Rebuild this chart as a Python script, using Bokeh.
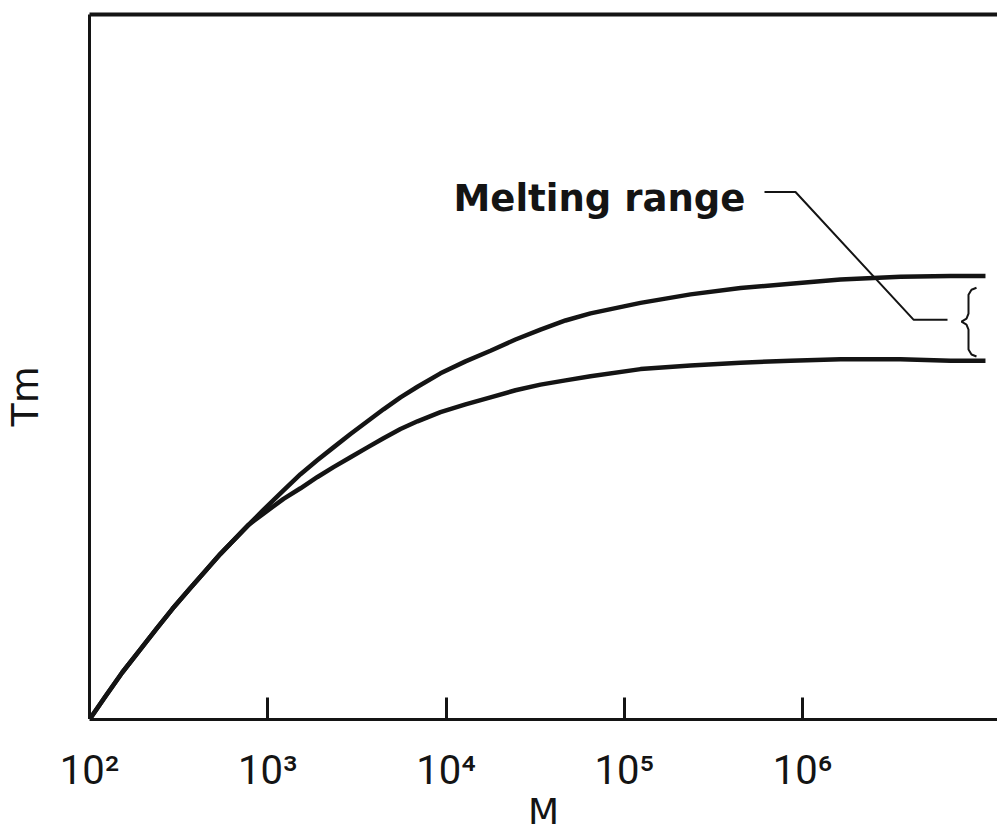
from bokeh.plotting import figure
from bokeh.models import Range1d, FixedTicker, LinearAxis, Label, Title
from bokeh.embed import file_html
from bokeh.resources import INLINE

# ---- data (M on a log axis, Tm in arbitrary units) ----
M_common = [100, 123, 153, 191, 238, 292, 364, 448, 543, 659, 780]
Tm_common = [0.0, 3.3, 6.7, 9.8, 12.9, 15.7, 18.5, 21.1, 23.5, 25.7, 27.6]
M_branch = [934, 1226, 1527, 1902, 2338, 2912, 3628, 4461, 5554, 6921,
            9314, 12870, 17770, 24540, 33900, 46820, 64680, 123400, 235400,
            449000, 856500, 1634000, 3546000, 6767000, 10630000]
Tm_upper = [29.6, 32.5, 34.8, 36.8, 38.6, 40.5, 42.3, 44.0, 45.7, 47.2,
            49.1, 50.8, 52.3, 53.9, 55.3, 56.6, 57.6, 59.1, 60.3,
            61.2, 61.8, 62.4, 62.8, 62.9, 62.9]
Tm_lower = [29.1, 31.3, 32.8, 34.4, 35.8, 37.2, 38.6, 39.9, 41.2, 42.3,
            43.6, 44.7, 45.7, 46.7, 47.5, 48.1, 48.7, 49.7, 50.2,
            50.6, 50.9, 51.1, 51.1, 50.9, 50.9]
tick_values = [1e2, 1e3, 1e4, 1e5, 1e6]
tick_labels = ["10²", "10³", "10⁴", "10⁵", "10⁶"]
x_title = "M"
y_title = "Tm"
note = "Melting range"

# ---- layout ----
W, H = 997, 834
LEFT, TOP = 89, 14
FRAME_W, FRAME_H = W - LEFT, 707
DEC_PX = 178.25
X_END = 10 ** (2 + FRAME_W / DEC_PX)


def x_at(px):
    # page pixel -> data x (annotation placement only)
    return 10 ** (2 + (px - LEFT) / DEC_PX)


def y_at(py):
    return (TOP + FRAME_H - py) / FRAME_H * 100.0


p = figure(width=W, height=H, x_axis_type="log",
           x_range=Range1d(100, X_END), y_range=Range1d(0, 100),
           output_backend="svg", toolbar_location=None,
           min_border_left=LEFT, min_border_right=0,
           min_border_top=TOP, min_border_bottom=H - TOP - FRAME_H)
p.outline_line_color = None
p.grid.visible = False
p.background_fill_color = "white"
p.border_fill_color = "white"

ink = "#141414"

# bottom axis
xa = p.xaxis[0]
xa.ticker = FixedTicker(ticks=tick_values)
xa.major_label_overrides = {v: s for v, s in zip(tick_values, tick_labels)}
xa.major_tick_in = 22
xa.major_tick_out = 0
xa.minor_tick_line_color = None
xa.major_tick_line_width = 3
xa.major_tick_line_color = ink
xa.axis_line_width = 3
xa.axis_line_color = ink
xa.major_label_text_font = "Roboto"
xa.major_label_text_font_size = "40px"
xa.major_label_text_color = ink
xa.major_label_standoff = 27
xa.axis_label = x_title
xa.axis_label_text_font = "DejaVu Sans"
xa.axis_label_text_font_style = "normal"
xa.axis_label_text_font_size = "36px"
xa.axis_label_text_color = ink
xa.axis_label_standoff = -6

# left axis: just a line; a single white (invisible) outer tick reserves room
# so that the title sits near the page edge as in the reference
ya = p.yaxis[0]
ya.ticker = FixedTicker(ticks=[0])
ya.major_label_overrides = {0: ""}
ya.minor_tick_line_color = None
ya.major_tick_line_color = "white"
ya.major_tick_line_width = 1
ya.major_tick_in = 0
ya.major_tick_out = 43
ya.major_label_standoff = 0
ya.major_label_text_font_size = "0px"
ya.axis_line_width = 3
ya.axis_line_color = ink

# top frame line
top = LinearAxis(ticker=FixedTicker(ticks=[]), major_label_text_font_size="0px",
                 major_tick_line_color=None, minor_tick_line_color=None,
                 axis_line_width=4, axis_line_color=ink)
p.add_layout(top, "above")

# y title, placed below the vertical centre as in the reference
p.add_layout(Title(text=y_title, align="left", offset=293, standoff=0,
                   text_font="DejaVu Sans", text_font_style="normal",
                   text_font_size="38px", text_color=ink), "left")

# curves
p.line(M_common + M_branch, Tm_common + Tm_upper, line_width=4.5, line_color=ink,
       line_join="round")
p.line(M_common + M_branch, Tm_common + Tm_lower, line_width=4.5, line_color=ink,
       line_join="round")

# annotation: leader line and brace
p.line([x_at(x) for x in (764, 795, 913, 947)],
       [y_at(y) for y in (192, 192, 320, 320)], line_width=2, line_color=ink)
bx = (976, 971, 968, 968, 966, 961, 966, 968, 968, 971, 976)
by = (288, 290, 295, 314, 319, 322, 325, 330, 350, 355, 357)
p.line([x_at(x) for x in bx], [y_at(y) for y in by], line_width=2, line_color=ink)

p.add_layout(Label(x=x_at(453), y=y_at(199), text=note, text_font="DejaVu Sans",
                   text_font_style="bold", text_font_size="37px", text_color=ink,
                   text_align="left", text_baseline="alphabetic"))

open("out.html", "w").write(file_html(p, INLINE))
